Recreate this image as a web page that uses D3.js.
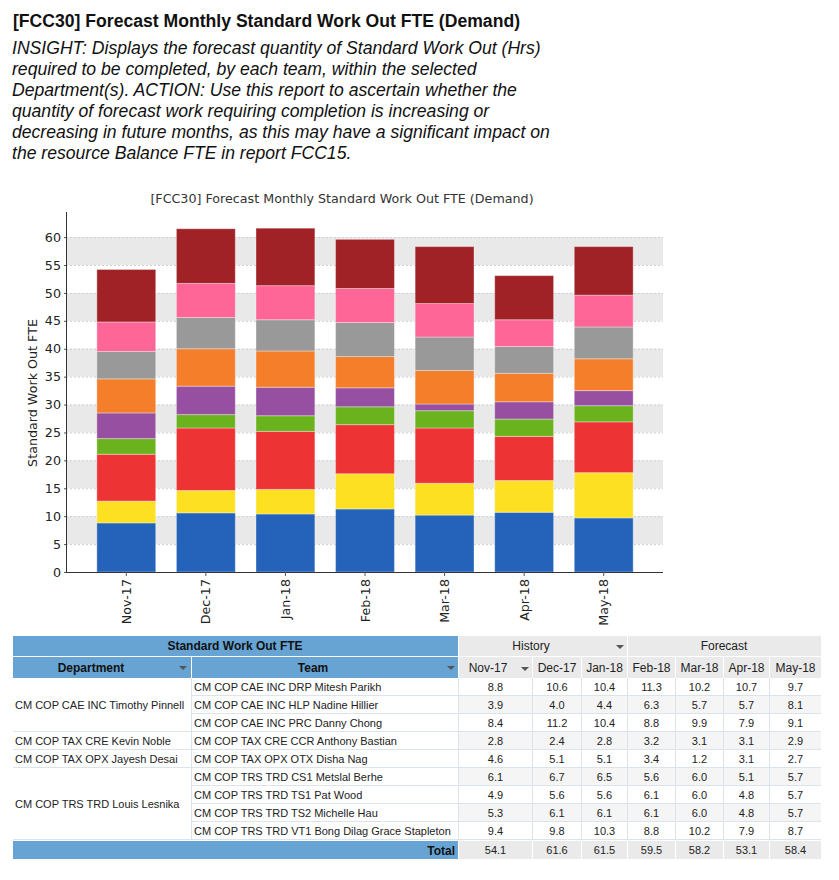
<!DOCTYPE html>
<html>
<head>
<meta charset="utf-8">
<script src="https://cdn.jsdelivr.net/npm/d3@7"></script>
<style>
  body { margin: 0; background: #fff; }
  svg { display: block; }
</style>
</head>
<body>
<div id="data"></div>
<script>
// chart data
const months = ['Nov-17', 'Dec-17', 'Jan-18', 'Feb-18', 'Mar-18', 'Apr-18', 'May-18'];
const teams = [
  'CM COP CAE INC DRP Mitesh Parikh',
  'CM COP CAE INC HLP Nadine Hillier',
  'CM COP CAE INC PRC Danny Chong',
  'CM COP TAX CRE CCR Anthony Bastian',
  'CM COP TAX OPX OTX Disha Nag',
  'CM COP TRS TRD CS1 Metslal Berhe',
  'CM COP TRS TRD TS1 Pat Wood',
  'CM COP TRS TRD TS2 Michelle Hau',
  'CM COP TRS TRD VT1 Bong Dilag Grace Stapleton'
];
const departments = ['CM COP CAE INC Timothy Pinnell', 'CM COP TAX CRE Kevin Noble', 'CM COP TAX OPX Jayesh Desai', 'CM COP TRS TRD Louis Lesnika'];
const deptTeamCount = [3, 1, 1, 4];
const values = [
  [8.8, 10.6, 10.4, 11.3, 10.2, 10.7, 9.7],
  [3.9, 4.0, 4.4, 6.3, 5.7, 5.7, 8.1],
  [8.4, 11.2, 10.4, 8.8, 9.9, 7.9, 9.1],
  [2.8, 2.4, 2.8, 3.2, 3.1, 3.1, 2.9],
  [4.6, 5.1, 5.1, 3.4, 1.2, 3.1, 2.7],
  [6.1, 6.7, 6.5, 5.6, 6.0, 5.1, 5.7],
  [4.9, 5.6, 5.6, 6.1, 6.0, 4.8, 5.7],
  [5.3, 6.1, 6.1, 6.1, 6.0, 4.8, 5.7],
  [9.4, 9.8, 10.3, 8.8, 10.2, 7.9, 8.7]
];
const totals = [54.1, 61.6, 61.5, 59.5, 58.2, 53.1, 58.4];
const yTicks = [0, 5, 10, 15, 20, 25, 30, 35, 40, 45, 50, 55, 60];
const colors = ['#2463b9', '#fee022', '#ee3335', '#6bb21f', '#9750a1', '#f57e2a', '#999999', '#fe6698', '#a02227'];

const w = 839;
const h = 880;

const svg = d3.select('#data')
  .append('svg')
  .attr('width', w)
  .attr('height', h);

// header text
svg.append('text')
  .attr('x', 13).attr('y', 27)
  .style('font', 'bold 17.6px Arial, "Liberation Sans", sans-serif')
  .style('fill', '#111')
  .text('[FCC30] Forecast Monthly Standard Work Out FTE (Demand)');

const insight = [
  'INSIGHT: Displays the forecast quantity of Standard Work Out (Hrs)',
  'required to be completed, by each team, within the selected',
  'Department(s). ACTION: Use this report to ascertain whether the',
  'quantity of forecast work requiring completion is increasing or',
  'decreasing in future months, as this may have a significant impact on',
  'the resource Balance FTE in report FCC15.'
];
svg.append('g').selectAll('text')
  .data(insight)
  .enter()
  .append('text')
  .attr('x', 12)
  .attr('y', (d, i) => 53.5 + i * 21)
  .style('font', 'italic 17.6px Arial, "Liberation Sans", sans-serif')
  .style('fill', '#111')
  .text(d => d);

// ---------- chart ----------
const pL = 66, pR = 663, pT = 212, pB = 572;
const chartFont = '12.7px "DejaVu Sans", sans-serif';

const yScale = d3.scaleLinear().domain([0, 64.5]).range([pB, pT]);
const xScale = d3.scaleBand()
  .domain(months)
  .range([86.5, 643.5])
  .paddingInner(0.26)
  .paddingOuter(0.13);

svg.append('text')
  .attr('x', 342).attr('y', 203)
  .attr('text-anchor', 'middle')
  .style('font', chartFont)
  .style('fill', '#333')
  .text('[FCC30] Forecast Monthly Standard Work Out FTE (Demand)');

// alternating bands
const bandData = yTicks.slice(0, -1).map((t, i) => [t, yTicks[i + 1], i]);
svg.append('g').selectAll('rect')
  .data(bandData.filter(d => d[2] % 2 === 1))
  .enter()
  .append('rect')
  .attr('x', pL)
  .attr('y', d => yScale(d[1]))
  .attr('width', pR - pL)
  .attr('height', d => yScale(d[0]) - yScale(d[1]))
  .style('fill', '#e9e9e9');

svg.append('g').selectAll('line')
  .data(yTicks.slice(1))
  .enter()
  .append('line')
  .attr('x1', pL).attr('x2', pR)
  .attr('y1', d => yScale(d) + 0.5).attr('y2', d => yScale(d) + 0.5)
  .style('stroke', '#cfcfcf')
  .style('stroke-dasharray', '2,2');

// stacked bars
const rows = months.map((m, j) => {
  const r = { month: m };
  teams.forEach((t, i) => { r[i] = values[i][j]; });
  return r;
});
const stack = d3.stack().keys(teams.map((t, i) => i));
const series = stack(rows);

svg.append('g').selectAll('g')
  .data(series)
  .enter()
  .append('g')
  .style('fill', (d, i) => colors[i])
  .selectAll('rect')
  .data(d => d)
  .enter()
  .append('rect')
  .attr('x', d => xScale(d.data.month))
  .attr('y', d => yScale(d[1]))
  .attr('width', xScale.bandwidth())
  .attr('height', d => yScale(d[0]) - yScale(d[1]))
  .style('stroke', 'rgba(255,255,255,0.35)')
  .style('stroke-width', 1);

// axes
const xAxis = d3.axisBottom(xScale).tickSize(4).tickSizeOuter(0);
const gx = svg.append('g')
  .attr('transform', `translate(0, ${pB})`)
  .call(xAxis);
gx.select('.domain').attr('d', `M${pL},0.5H${pR}`).style('stroke', '#333');
gx.selectAll('.tick line').style('stroke', '#555');
gx.selectAll('.tick text')
  .style('font', chartFont)
  .style('fill', '#222')
  .attr('text-anchor', 'end')
  .attr('transform', 'translate(0, 7) rotate(-90)')
  .attr('x', 0)
  .attr('y', 0)
  .attr('dy', '0.36em');

const yAxis = d3.axisLeft(yScale).tickValues(yTicks).tickSize(2).tickSizeOuter(0);
const gy = svg.append('g')
  .attr('transform', `translate(${pL}, 0)`)
  .call(yAxis);
gy.select('.domain').attr('d', `M0.5,${pT}V${pB}`).style('stroke', '#333');
gy.selectAll('.tick line').style('stroke', '#555');
gy.selectAll('.tick text')
  .style('font', chartFont)
  .style('fill', '#222')
  .attr('x', -5);

svg.append('text')
  .attr('transform', 'translate(37, 393) rotate(-90)')
  .attr('text-anchor', 'middle')
  .style('font', chartFont)
  .style('fill', '#222')
  .text('Standard Work Out FTE');

// ---------- table ----------
const tFont = '11px Arial, "Liberation Sans", sans-serif';
const hFont = '12px Arial, "Liberation Sans", sans-serif';
const blue = '#67a4d4';
const grey = '#eaeaea';
const colX = [459, 533, 582, 628, 676, 724, 770];
const colEnd = [532, 581, 627, 675, 723, 769, 821];
const rowTop = 678, rowH = 18;

const table = svg.append('g');

function arrow(x, y) {
  table.append('path')
    .attr('d', `M${x - 4},${y - 2}L${x + 4},${y - 2}L${x},${y + 2}Z`)
    .style('fill', '#555');
}

// header row 1
table.append('rect').attr('x', 13).attr('y', 636).attr('width', 445).attr('height', 20).style('fill', blue);
table.append('text').attr('x', 235).attr('y', 650).attr('text-anchor', 'middle')
  .style('font', 'bold ' + hFont).style('fill', '#111').text('Standard Work Out FTE');
table.append('rect').attr('x', 459).attr('y', 636).attr('width', 168).attr('height', 20).style('fill', grey);
table.append('rect').attr('x', 628).attr('y', 636).attr('width', 193).attr('height', 20).style('fill', grey);
table.append('text').attr('x', 531).attr('y', 650).attr('text-anchor', 'middle')
  .style('font', hFont).style('fill', '#222').text('History');
table.append('text').attr('x', 724).attr('y', 650).attr('text-anchor', 'middle')
  .style('font', hFont).style('fill', '#222').text('Forecast');
arrow(620, 647);

// header row 2
table.append('rect').attr('x', 13).attr('y', 657).attr('width', 178).attr('height', 21).style('fill', blue);
table.append('rect').attr('x', 192).attr('y', 657).attr('width', 266).attr('height', 21).style('fill', blue);
table.append('text').attr('x', 91).attr('y', 672).attr('text-anchor', 'middle')
  .style('font', 'bold ' + hFont).style('fill', '#111').text('Department');
table.append('text').attr('x', 313).attr('y', 672).attr('text-anchor', 'middle')
  .style('font', 'bold ' + hFont).style('fill', '#111').text('Team');
arrow(183, 668);
arrow(451, 668);

table.selectAll('.mh')
  .data(months)
  .enter()
  .append('rect')
  .attr('x', (d, i) => colX[i])
  .attr('y', 657)
  .attr('width', (d, i) => colEnd[i] - colX[i])
  .attr('height', 21)
  .style('fill', grey);
table.selectAll('.mt')
  .data(months)
  .enter()
  .append('text')
  .attr('x', (d, i) => i === 0 ? 488 : (colX[i] + colEnd[i]) / 2)
  .attr('y', 672)
  .attr('text-anchor', 'middle')
  .style('font', hFont)
  .style('fill', '#222')
  .text(d => d);
arrow(525, 669);

// data cells
teams.forEach((t, i) => {
  const y0 = rowTop + i * rowH;
  values[i].forEach((v, j) => {
    table.append('rect')
      .attr('x', colX[j]).attr('y', y0)
      .attr('width', colEnd[j] - colX[j]).attr('height', rowH)
      .style('fill', i % 2 === 1 ? '#f5f5f5' : '#fff');
    table.append('text')
      .attr('x', (colX[j] + colEnd[j]) / 2).attr('y', y0 + 13)
      .attr('text-anchor', 'middle')
      .style('font', tFont).style('fill', '#222')
      .text(v.toFixed(1));
  });
  table.append('text')
    .attr('x', 194).attr('y', y0 + 13)
    .style('font', tFont).style('fill', '#222')
    .text(t);
  table.append('line')
    .attr('x1', 192).attr('x2', 821)
    .attr('y1', y0 + rowH - 0.5).attr('y2', y0 + rowH - 0.5)
    .style('stroke', '#dde3ea');
});

// vertical separators
[191.5].concat(colX.map(x => x - 0.5)).forEach(x => {
  table.append('line')
    .attr('x1', x).attr('x2', x)
    .attr('y1', rowTop).attr('y2', rowTop + rowH * teams.length)
    .style('stroke', '#dde3ea');
});

// department cells
let start = 0;
departments.forEach((d, k) => {
  const n = deptTeamCount[k];
  const y0 = rowTop + start * rowH;
  table.append('text')
    .attr('x', 15).attr('y', y0 + n * rowH / 2 + 4)
    .style('font', tFont).style('fill', '#222')
    .text(d);
  table.append('line')
    .attr('x1', 13).attr('x2', 191)
    .attr('y1', y0 + n * rowH - 0.5).attr('y2', y0 + n * rowH - 0.5)
    .style('stroke', '#dde3ea');
  start += n;
});

// total row
const totY = rowTop + rowH * teams.length + 1;
table.append('rect').attr('x', 13).attr('y', totY).attr('width', 445).attr('height', 18).style('fill', blue);
table.append('text').attr('x', 455).attr('y', totY + 14).attr('text-anchor', 'end')
  .style('font', 'bold ' + hFont).style('fill', '#111').text('Total');
table.selectAll('.tot')
  .data(totals)
  .enter()
  .append('rect')
  .attr('x', (d, i) => colX[i])
  .attr('y', totY)
  .attr('width', (d, i) => colEnd[i] - colX[i])
  .attr('height', 18)
  .style('fill', grey);
table.selectAll('.tott')
  .data(totals)
  .enter()
  .append('text')
  .attr('x', (d, i) => (colX[i] + colEnd[i]) / 2)
  .attr('y', totY + 13)
  .attr('text-anchor', 'middle')
  .style('font', tFont)
  .style('fill', '#222')
  .text(d => d.toFixed(1));
</script>
</body>
</html>
